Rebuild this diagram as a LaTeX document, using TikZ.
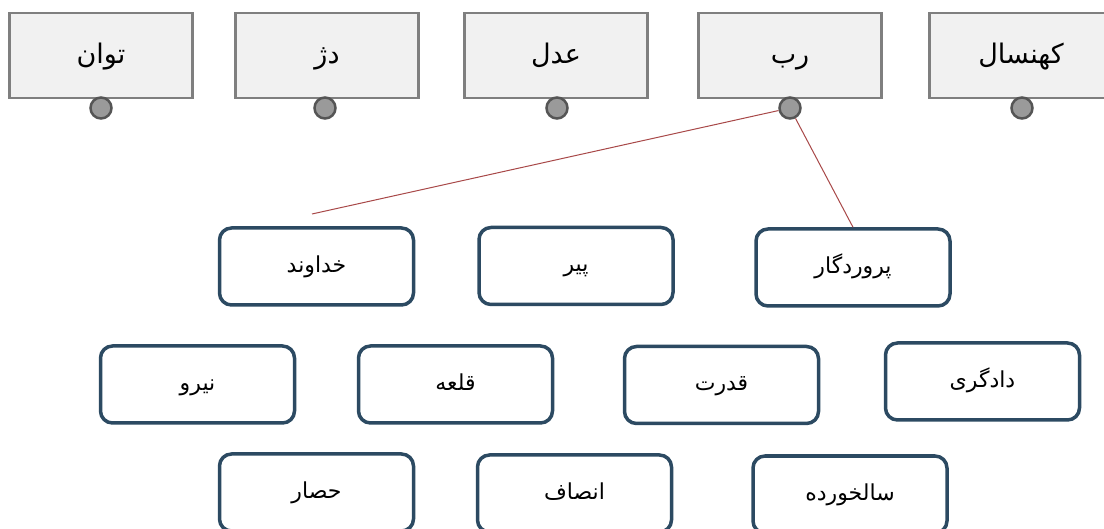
\documentclass[tikz,border=0pt]{standalone}
\usepackage{fontspec}
\newfontfamily\arabicfont[Script=Arabic]{DejaVu Sans}
\TeXXeTstate=1
\newcommand{\fatext}[1]{\arabicfont\beginR #1\endR}
\definecolor{topborder}{HTML}{7F7F7F}
\definecolor{topfill}{HTML}{F1F1F1}
\definecolor{dotfill}{HTML}{9A9A9A}
\definecolor{dotborder}{HTML}{555555}
\definecolor{wordborder}{HTML}{2C4A62}
\definecolor{linkred}{HTML}{A84848}
\begin{document}
\begin{tikzpicture}[x=1pt,y=-1pt,
  topbox/.style={draw=topborder,fill=topfill,line width=2.5pt,minimum width=183pt,minimum height=85pt,inner sep=0pt,text height=22pt,text depth=6pt,font=\fontsize{27}{30}\selectfont},
  dot/.style={circle,draw=dotborder,fill=dotfill,line width=2.5pt,minimum size=21pt,inner sep=0pt},
  wordbox/.style={draw=wordborder,fill=white,line width=3.5pt,rounded corners=12pt,minimum width=194pt,minimum height=77pt,inner sep=0pt,text height=18pt,text depth=6pt,font=\fontsize{22}{25}\selectfont},
  link/.style={draw=linkred,line width=1pt}]
\useasboundingbox (0,0) rectangle (1104,529);
\fill[white] (0,0) rectangle (1104,529);
% top boxes
\node[topbox] (t1) at (101,55.5) {\fatext{توان}};
\node[topbox] (t2) at (327,55.5) {\fatext{دژ}};
\node[topbox] (t3) at (556,55.5) {\fatext{عدل}};
\node[topbox] (t4) at (790,55.5) {\fatext{رب}};
\node[topbox] (t5) at (1021,55.5) {\fatext{کهنسال}};
% dots
\node[dot] (d1) at (101,108) {};
\node[dot] (d2) at (325,108) {};
\node[dot] (d3) at (557,108) {};
\node[dot] (d4) at (790,108) {};
\node[dot] (d5) at (1022,108) {};
% word boxes
\node[wordbox] (w1) at (316.5,266.5) {\fatext{خداوند}};
\node[wordbox] (w2) at (576,266) {\fatext{پیر}};
\node[wordbox] (w3) at (853,267.5) {\fatext{پروردگار}};
\node[wordbox] (w4) at (197.5,384.5) {\fatext{نیرو}};
\node[wordbox] (w5) at (455.5,384.5) {\fatext{قلعه}};
\node[wordbox] (w6) at (721.5,385) {\fatext{قدرت}};
\node[wordbox] (w7) at (982.5,381.5) {\fatext{دادگری}};
\node[wordbox] (w8) at (316.5,492.5) {\fatext{حصار}};
\node[wordbox] (w9) at (574.5,493.5) {\fatext{انصاف}};
\node[wordbox] (w10) at (850,494.5) {\fatext{سالخورده}};
% links
\coordinate (e1) at (312,214);
\draw[link] (d4) -- (e1);
\draw[link] (d4) -- (w3.north);
\end{tikzpicture}
\end{document}
